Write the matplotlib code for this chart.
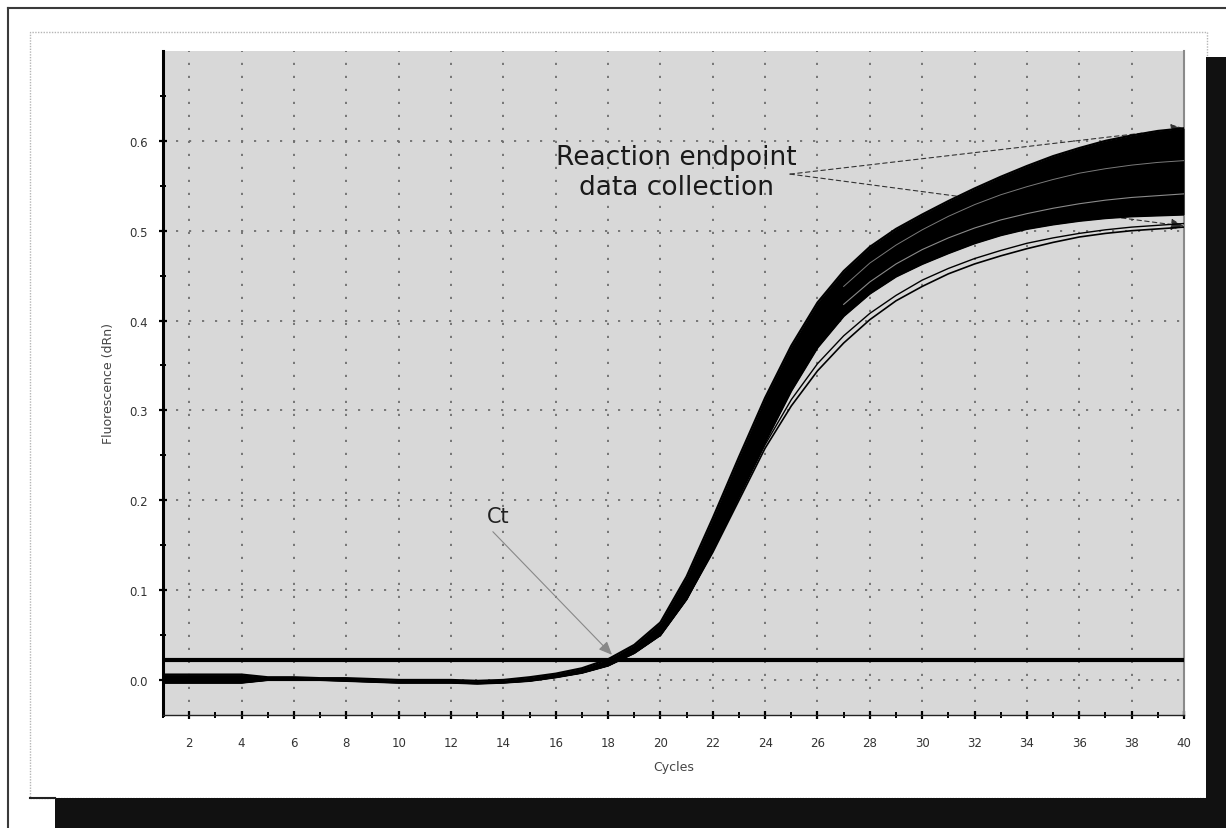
import matplotlib
matplotlib.use("Agg")
import matplotlib.pyplot as plt
from matplotlib.patches import Rectangle
from matplotlib.lines import Line2D

# ---------------- data ----------------
cycles = list(range(1, 41))

upper_curve = [0.006, 0.006, 0.006, 0.006, 0.003, 0.003, 0.002, 0.002, 0.001, 0.000,
               0.000, 0.000, -0.001, 0.000, 0.003, 0.007, 0.013, 0.023, 0.039, 0.064,
               0.115, 0.180, 0.248, 0.314, 0.372, 0.420, 0.455, 0.482, 0.502, 0.518,
               0.533, 0.547, 0.560, 0.572, 0.583, 0.592, 0.600, 0.606, 0.611, 0.614]

lower_curve = [-0.003, -0.003, -0.003, -0.003, 0.000, 0.000, 0.000, -0.001, -0.002, -0.003,
               -0.003, -0.003, -0.004, -0.003, -0.001, 0.003, 0.008, 0.016, 0.030, 0.050,
               0.090, 0.145, 0.205, 0.265, 0.322, 0.370, 0.405, 0.430, 0.449, 0.463,
               0.475, 0.486, 0.495, 0.502, 0.507, 0.511, 0.514, 0.516, 0.517, 0.518]

outlier_low = [-0.003, -0.003, -0.003, -0.003, 0.000, 0.000, 0.000, -0.001, -0.002, -0.003,
               -0.003, -0.003, -0.004, -0.003, -0.001, 0.003, 0.008, 0.016, 0.030, 0.050,
               0.090, 0.142, 0.200, 0.258, 0.305, 0.344, 0.375, 0.401, 0.422, 0.438,
               0.452, 0.463, 0.472, 0.480, 0.487, 0.493, 0.497, 0.500, 0.502, 0.504]

outlier_mid = [-0.003, -0.003, -0.003, -0.003, 0.000, 0.000, 0.000, -0.001, -0.002, -0.003,
               -0.003, -0.003, -0.004, -0.003, -0.001, 0.003, 0.008, 0.016, 0.030, 0.050,
               0.090, 0.143, 0.203, 0.262, 0.312, 0.352, 0.383, 0.408, 0.428, 0.445,
               0.458, 0.469, 0.478, 0.486, 0.492, 0.497, 0.501, 0.504, 0.506, 0.508]

streak_cycles = list(range(27, 41))
streak_a = [0.418, 0.443, 0.463, 0.479, 0.492, 0.503, 0.512, 0.519, 0.525, 0.530,
            0.534, 0.537, 0.539, 0.541]
streak_b = [0.438, 0.464, 0.484, 0.501, 0.516, 0.529, 0.540, 0.549, 0.557, 0.564,
            0.569, 0.573, 0.576, 0.578]

threshold = 0.022

x_ticks = list(range(2, 41, 2))
y_ticks = [0.0, 0.1, 0.2, 0.3, 0.4, 0.5, 0.6]
y_tick_labels = ["0.0", "0.1", "0.2", "0.3", "0.4", "0.5", "0.6"]

# ---------------- figure ----------------
W, H = 1226, 829
fig = plt.figure(figsize=(W / 100, H / 100), dpi=100)
fig.patch.set_facecolor("white")

def fx(px):
    return px / W

def fy(py):
    return 1 - py / H

# outer frame lines
fig.add_artist(Line2D([fx(8), fx(8)], [fy(9), fy(829)], color="#3a3a3a", lw=1.5))
fig.add_artist(Line2D([fx(8), fx(1226)], [fy(9), fy(9)], color="#3a3a3a", lw=1.5))
# inner dotted light rectangle
fig.add_artist(Rectangle((fx(30), fy(799)), fx(1207) - fx(30), fy(33) - fy(799),
                         fill=False, edgecolor="#b5b5b5", lw=1.0, linestyle=(0, (1, 1))))
# black drop shadow
fig.add_artist(Rectangle((fx(1206), fy(829)), fx(1226) - fx(1206), fy(58) - fy(829),
                         facecolor="#111111", edgecolor="none"))
fig.add_artist(Rectangle((fx(55), fy(829)), fx(1226) - fx(55), fy(799) - fy(829),
                         facecolor="#111111", edgecolor="none"))
fig.add_artist(Line2D([fx(30), fx(55)], [fy(799), fy(799)], color="#222222", lw=1.5))

ax = fig.add_axes([fx(163), fy(716), fx(1184) - fx(163), fy(52) - fy(716)])
ax.set_facecolor("#d8d8d8")
ax.set_xlim(1, 40)
ax.set_ylim(-0.039, 0.70)

# grid
ax.set_xticks(x_ticks)
ax.set_xticks(list(range(1, 41, 2)), minor=True)
ax.set_yticks(y_ticks)
ax.set_yticklabels(y_tick_labels)
ax.set_yticks([0.05, 0.15, 0.25, 0.35, 0.45, 0.55, 0.65], minor=True)
ax.grid(True, which="major", color="#6e6e6e", lw=1.3, linestyle=(0, (1.2, 6)))
ax.set_axisbelow(True)

# annotation arrows for the endpoint (drawn beneath the curves)
for yend in (0.614, 0.505):
    ax.annotate("", xy=(40, yend), xytext=(24.95, 0.563),
                arrowprops=dict(arrowstyle="-|>,head_length=0.8,head_width=0.35",
                                color="#333333", lw=0.8, linestyle=(0, (4, 3)),
                                shrinkA=0, shrinkB=0),
                zorder=2.5, annotation_clip=False)

# amplification band
ax.fill_between(cycles, lower_curve, upper_curve, color="black", lw=0, zorder=3)
ax.plot(cycles, upper_curve, color="black", lw=1.6, zorder=3, solid_joinstyle="round")
ax.plot(cycles, lower_curve, color="black", lw=1.6, zorder=3, solid_joinstyle="round")
ax.plot(cycles, outlier_low, color="black", lw=1.2, zorder=3)
ax.plot(cycles, outlier_mid, color="black", lw=1.0, zorder=3)
ax.plot(streak_cycles, streak_a, color="#8a8a8a", lw=0.8, zorder=4)
ax.plot(streak_cycles, streak_b, color="#7a7a7a", lw=0.7, zorder=4)

# threshold line
ax.axhline(threshold, color="black", lw=3.0, zorder=5)

# annotations
ax.text(13.8, 0.182, "Ct", fontsize=15, color="#222222", ha="center", va="center",
        family="DejaVu Sans", zorder=6)
ax.annotate("", xy=(18.15, 0.028), xytext=(13.6, 0.165),
            arrowprops=dict(arrowstyle="-|>,head_length=0.8,head_width=0.35",
                            color="#888888", lw=0.8, shrinkA=0, shrinkB=0),
            zorder=6)

ax.text(20.6, 0.565, "Reaction endpoint\ndata collection", fontsize=19, color="#1a1a1a",
        ha="center", va="center", linespacing=1.2, family="DejaVu Sans", zorder=6)

# spines and ticks
ax.spines["top"].set_visible(False)
ax.spines["left"].set_linewidth(2.2)
ax.spines["left"].set_color("black")
ax.spines["bottom"].set_linewidth(1.0)
ax.spines["bottom"].set_color("#222222")
ax.spines["bottom"].set_linestyle((0, (2, 1)))
ax.spines["right"].set_linewidth(1.5)
ax.spines["right"].set_color("#8a8a8a")

ax.tick_params(axis="both", which="major", direction="inout", length=6, width=1.6,
               color="black", labelsize=8.5, labelcolor="#333333")
ax.tick_params(axis="both", which="minor", direction="inout", length=5, width=1.4,
               color="black")
ax.tick_params(axis="x", which="major", pad=12)
ax.tick_params(axis="y", which="major", pad=8)

ax.set_xlabel("Cycles", fontsize=9, color="#444444", labelpad=8)
ax.set_ylabel("Fluorescence (dRn)", fontsize=9, color="#444444", labelpad=10)

fig.savefig("out.png", dpi=100, facecolor="white")
